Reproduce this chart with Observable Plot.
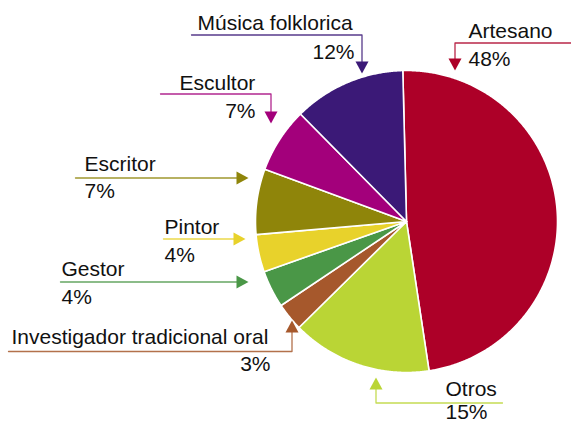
<!DOCTYPE html>
<html>
<head>
<meta charset="utf-8">
<script src="https://cdn.jsdelivr.net/npm/d3@7"></script>
<script src="https://cdn.jsdelivr.net/npm/@observablehq/plot@0.6"></script>
<style>
  html, body { margin: 0; padding: 0; background: #fff; }
  #chart svg { display: block; }
</style>
</head>
<body>
<div id="chart"></div>
<script>
// ---- data ----
const categories = ["Artesano", "Otros", "Investigador tradicional oral", "Gestor", "Pintor", "Escritor", "Escultor", "Música folklorica"];
const shares = [48, 15, 3, 4, 4, 7, 7, 12];
const pctLabels = ["48%", "15%", "3%", "4%", "4%", "7%", "7%", "12%"];

// ---- styles ----
const colors = ["#ad0028", "#bad535", "#a6582c", "#4a9747", "#e8d22b", "#8f850a", "#a3007b", "#3b1977"];

// ---- layout (pixel positions of pie and annotations) ----
const W = 571, H = 423;
const pieCenter = [406, 221];
const pieRadius = 151;
const startDeg = -1.4;
const fontSize = 21;
// name label [x, y(baseline), anchor], pct label [x, y, anchor], leader path (last point = arrow tip)
const layout = {
  "Artesano": {name: [468, 37, "start"], pct: [468, 65, "start"], path: [[571, 42.5], [454.5, 42.5], [454.5, 70]]},
  "Otros": {name: [445, 395, "start"], pct: [445, 418, "start"], path: [[502, 402.5], [375.5, 402.5], [375.5, 377]]},
  "Investigador tradicional oral": {name: [11, 343, "start"], pct: [270, 370, "end"], path: [[8, 351], [291.5, 351], [291.5, 320]]},
  "Gestor": {name: [61, 275, "start"], pct: [61, 303, "start"], path: [[60, 281.5], [248, 281.5]]},
  "Pintor": {name: [164, 233, "start"], pct: [164, 261, "start"], path: [[163, 238.5], [245, 238.5]]},
  "Escritor": {name: [84, 170, "start"], pct: [84, 197, "start"], path: [[75, 177.5], [248, 177.5]]},
  "Escultor": {name: [179, 89, "start"], pct: [255, 117, "end"], path: [[160, 93.5], [270.5, 93.5], [270.5, 123]]},
  "Música folklorica": {name: [197, 29, "start"], pct: [354, 58, "end"], path: [[191, 34.5], [361.5, 34.5], [361.5, 73]]}
};
const arrowLen = 12, arrowHalf = 6.5;

// ---- build geometry from data ----
const rad = Math.PI / 180;
const arcs = d3.pie().sort(null).value(d => d)
  .startAngle(startDeg * rad).endAngle(startDeg * rad + 2 * Math.PI)(shares);

const slicePts = [];
arcs.forEach((a, i) => {
  const name = categories[i];
  const [cx, cy] = pieCenter;
  slicePts.push({name, x: cx, y: cy});
  const n = Math.max(2, Math.ceil((a.endAngle - a.startAngle) / (0.4 * rad)));
  for (let k = 0; k <= n; k++) {
    const t = a.startAngle + (a.endAngle - a.startAngle) * k / n;
    slicePts.push({name, x: cx + pieRadius * Math.sin(t), y: cy - pieRadius * Math.cos(t)});
  }
  slicePts.push({name, x: cx, y: cy});
});

const leaderPts = [];
const arrowPts = [];
const labelRows = [];
categories.forEach((name, i) => {
  const L = layout[name];
  const path = L.path.slice();
  const tip = path[path.length - 1];
  const prev = path[path.length - 2];
  const dx = tip[0] - prev[0], dy = tip[1] - prev[1];
  const len = Math.hypot(dx, dy);
  const ux = dx / len, uy = dy / len;
  const base = [tip[0] - ux * arrowLen, tip[1] - uy * arrowLen];
  // shorten the line so it ends under the arrowhead
  path[path.length - 1] = [base[0] + ux * 1, base[1] + uy * 1];
  path.forEach(p => leaderPts.push({name, x: p[0], y: p[1]}));
  arrowPts.push({name, x: tip[0], y: tip[1]});
  arrowPts.push({name, x: base[0] - uy * arrowHalf, y: base[1] + ux * arrowHalf});
  arrowPts.push({name, x: base[0] + uy * arrowHalf, y: base[1] - ux * arrowHalf});
  labelRows.push({name, x: L.name[0], y: L.name[1], anchor: L.name[2], text: name});
  labelRows.push({name, x: L.pct[0], y: L.pct[1], anchor: L.pct[2], text: pctLabels[i]});
});

const textOpts = (anchor) => ({
  x: "x", y: "y", text: "text",
  filter: d => d.anchor === anchor,
  textAnchor: anchor, lineAnchor: "bottom",
  fontSize, fill: "#111",
  fontFamily: "Liberation Sans, Arial, Helvetica, sans-serif"
});

const chart = Plot.plot({
  width: W, height: H,
  margin: 0,
  x: {domain: [0, W], range: [0, W], axis: null},
  y: {domain: [0, H], range: [0, H], axis: null},
  color: {domain: categories, range: colors},
  style: {background: "#fff", fontFamily: "Liberation Sans, Arial, sans-serif"},
  marks: [
    Plot.line(slicePts, {x: "x", y: "y", z: "name", fill: "name", stroke: "#fff", strokeWidth: 1.6, strokeLinejoin: "round"}),
    Plot.line(leaderPts, {x: "x", y: "y", z: "name", stroke: "name", strokeWidth: 1.3, strokeOpacity: 0.85}),
    Plot.line(arrowPts, {x: "x", y: "y", z: "name", fill: "name", stroke: "none"}),
    Plot.text(labelRows, textOpts("start")),
    Plot.text(labelRows, textOpts("end"))
  ]
});
document.getElementById("chart").appendChild(chart);
</script>
</body>
</html>
